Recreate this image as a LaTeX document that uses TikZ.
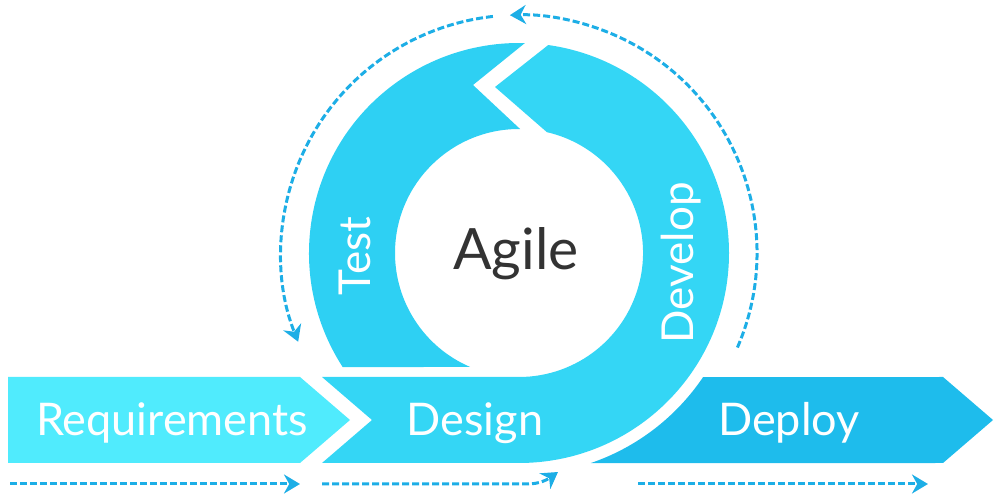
\documentclass[tikz,border=0pt]{standalone}
\usepackage{fontspec}
\setmainfont{Lato}
\usepackage{tikz}
\usetikzlibrary{arrows.meta, calc}
\definecolor{agreq}{HTML}{50EBFD}
\definecolor{agring}{HTML}{34D6F5}
\definecolor{agtest}{HTML}{2ED0F3}
\definecolor{agdeploy}{HTML}{1EBCEC}
\definecolor{agdash}{HTML}{1DAEE6}
\definecolor{agtext}{HTML}{333333}

\begin{document}
\begin{tikzpicture}[
    x=1pt, y=1pt,
    phase/.style={text=white, anchor=base, font=\fontsize{45}{54}\selectfont},
    flow/.style={draw=agdash, line width=3pt, dash pattern=on 7pt off 3pt, -{Stealth[length=16pt, width=19pt]}},
]
\useasboundingbox (0,0) rectangle (1000,500);
\coordinate (c) at (519,247);

% Test segment of the ring
\fill[agtest] ($(c)+(212.9:210)$) arc[start angle=212.9, end angle=88.4, radius=210]
    -- (473,415) -- ($(c)+(89.5:124)$) arc[start angle=89.5, end angle=246.8, radius=124] -- cycle;

% Design band running into Develop
\fill[agring] (322,37) -- (519,37) arc[start angle=-90, end angle=82, radius=210]
    -- (495,413) -- ($(c)+(77:124)$) arc[start angle=77, end angle=-90, radius=124]
    -- (322,123) -- (372,80) -- cycle;

% Requirements and Deploy
\fill[agreq] (8,37) -- (300,37) -- (350,80) -- (300,123) -- (8,123) -- cycle;
\fill[agdeploy] ($(c)+(-34:222)$) -- (943,123) -- (993,80) -- (943,37)
    -- ($(c)+(-71.1:222)$) arc[start angle=-71.1, end angle=-34, radius=222] -- cycle;

% Labels
\node[phase] (req) at (172,64) {Requirements};
\node[phase] (design) at (475,64) {Design};
\node[phase] (deploy) at (789,64) {Deploy};
\node[phase, rotate=90, font=\fontsize{44}{52}\selectfont] (test) at (370,244) {Test};
\node[phase, rotate=90, font=\fontsize{44}{52}\selectfont] (develop) at (693,237) {Develop};
\node[anchor=base, text=agtext, font=\fontsize{57}{68}\selectfont] (agile) at (516,230) {Agile};

% Dashed flow arrows
\coordinate (b1s) at (10,16);   \coordinate (b1e) at (300,16);
\coordinate (b2s) at (322,16);  \coordinate (b2m) at (527,16);  \coordinate (b2e) at (558,28);
\coordinate (b3s) at (638,16);  \coordinate (b3e) at (928,16);
\draw[flow] (b1s) -- (b1e);
\draw[flow] (b2s) -- (b2m) to[out=0, in=215] (b2e);
\draw[flow] (b3s) -- (b3e);

\coordinate (rs) at ($(c)+(-23.4:238)$);
\coordinate (ls) at ($(c)+(96.3:238)$);
\draw[flow] (rs) arc[start angle=-23.4, end angle=92.2, radius=238];
\draw[flow] (ls) arc[start angle=96.3, end angle=201.9, radius=238];

\end{tikzpicture}
\end{document}
